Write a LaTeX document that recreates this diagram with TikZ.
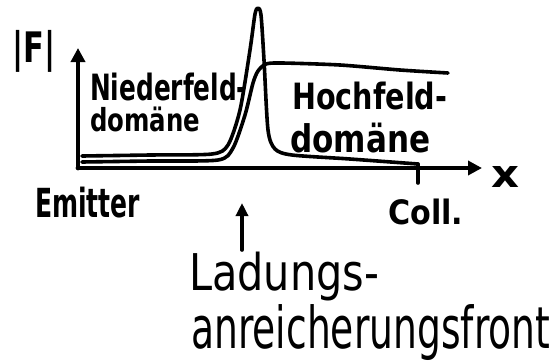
\documentclass[tikz,border=0pt]{standalone}
\usepackage{fontspec}
\setmainfont{DejaVu Sans}
\usepackage{graphicx}
\usetikzlibrary{arrows.meta}
% text fitted into a box of given width and total height
\newcommand\fitto[3]{\resizebox*{#1}{#2}{\bfseries #3}}
\newcommand\fitthin[3]{\resizebox*{#1}{#2}{#3}}
\begin{document}
\begin{tikzpicture}[x=1pt,y=-1pt,
  pen/.style={line width=3.6pt,line cap=round,line join=round},
  axis/.style={line width=4.8pt,line cap=round,-{Triangle[length=14pt,width=14pt]}},
  lbl/.style={inner sep=0pt,anchor=north west}]
\useasboundingbox (0,0) rectangle (551,362);

% axes
\coordinate (O) at (78,168);
\coordinate (ytip) at (78,48);
\coordinate (xtip) at (482,168);
\draw[axis] (O) -- (ytip);
\draw[axis] (O) -- (xtip);
\coordinate (tickT) at (418,164);
\coordinate (tickB) at (418,183);
\draw[pen] (tickT) -- (tickB);

% field profile: low-field domain, accumulation spike, return to axis
\draw[pen] plot[smooth,tension=0.45] coordinates {
  (82,156) (150,155) (212,154) (228,145) (240,110) (250,50) (255,14) (258,8)
  (261,15) (264,60) (268,130) (275,149) (292,155) (350,159) (418,164)};
% field profile: rising edge into the high-field plateau
\draw[pen] plot[smooth,tension=0.45] coordinates {
  (82,162) (150,161) (218,160) (233,148) (245,115) (253,83) (258,71)
  (266,64) (282,63) (340,65) (400,70) (448,73)};

% labels
\node[lbl] (F) at (12,30) {\fitto{43pt}{42pt}{|F|}};
\node[lbl] (nf) at (90,73) {\fitto{157pt}{28pt}{Niederfeld-}};
\node[lbl] (nd) at (90,107) {\fitto{110pt}{25pt}{domäne}};
\node[lbl] (hf) at (292,82) {\fitto{155pt}{28pt}{Hochfeld-}};
\node[lbl] (hd) at (290,123) {\fitto{140pt}{30pt}{domäne}};
\node[lbl] (em) at (35,187) {\fitto{105pt}{31pt}{Emitter}};
\node[lbl] (co) at (388,199) {\fitto{75pt}{26pt}{Coll.}};
\node[lbl] (xl) at (491,166) {\fitto{28pt}{21pt}{x}};
\node[lbl] (la) at (189,252) {\fitthin{190pt}{49pt}{Ladungs-}};
\node[lbl] (an) at (191,304) {\fitthin{359pt}{56pt}{anreicherungsfront}};

% pointer to the accumulation front
\coordinate (pfoot) at (242,250);
\coordinate (phead) at (242,203);
\draw[pen,-{Triangle[length=13pt,width=12pt]}] (pfoot) -- (phead);
\end{tikzpicture}
\end{document}
